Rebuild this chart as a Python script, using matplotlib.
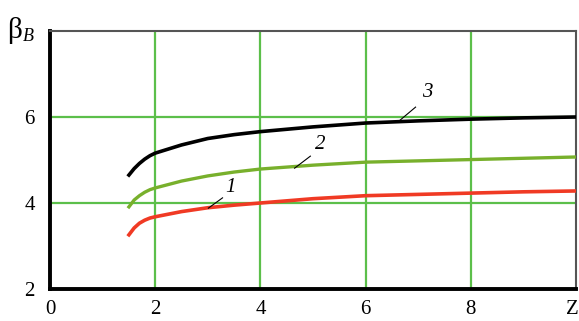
import matplotlib
matplotlib.use("Agg")
import matplotlib.pyplot as plt
from matplotlib.transforms import ScaledTranslation

# Data
z = [1.5, 1.6, 1.7, 1.8, 1.9, 2.0, 2.5, 3.0, 3.5, 4.0, 5.0, 6.0, 7.0, 8.0, 9.0, 10.0]
beta1 = [3.26, 3.42, 3.53, 3.60, 3.65, 3.68, 3.80, 3.89, 3.95, 4.00, 4.10, 4.17, 4.20, 4.23, 4.26, 4.28]
beta2 = [3.91, 4.07, 4.17, 4.25, 4.31, 4.35, 4.51, 4.63, 4.72, 4.79, 4.88, 4.95, 4.98, 5.01, 5.04, 5.07]
beta3 = [4.65, 4.80, 4.92, 5.02, 5.10, 5.16, 5.35, 5.50, 5.59, 5.66, 5.77, 5.86, 5.91, 5.95, 5.98, 6.00]
xticks = [0, 2, 4, 6, 8, 10]
xticklabels = ["0", "2", "4", "6", "8", "Z"]
yticks = [2, 4, 6]
yticklabels = ["2", "4", "6"]

plt.rcParams['font.family'] = ['Liberation Serif', 'DejaVu Serif']

fig = plt.figure(figsize=(5.79, 3.21), dpi=100)
ax = fig.add_axes([0.0864, 0.0997, 0.9084, 0.8037])
ax.set_xlim(0, 10)
ax.set_ylim(2, 8)

grid_c = '#5cbf4a'
for x in [2, 4, 6, 8]:
    ax.axvline(x, color=grid_c, lw=1.6, zorder=1)
for y in [4, 6]:
    ax.axhline(y, color=grid_c, lw=1.6, zorder=1)

ax.plot(z, beta1, color='#f03a24', lw=2.6, zorder=3, solid_joinstyle='round')
ax.plot(z, beta2, color='#78b02c', lw=2.4, zorder=3, solid_joinstyle='round')
ax.plot(z, beta3, color='black', lw=2.6, zorder=3, solid_joinstyle='round')

# leader lines and labels
def lab(xl, yl, x0, y0, x1, y1, t):
    ax.plot([x0, x1], [y0, y1], color='black', lw=0.8, zorder=4)
    ax.text(xl, yl, t, fontsize=15, style='italic', ha='center', va='center')

lab(3.43, 4.37, 3.01, 3.88, 3.28, 4.12, "1")
lab(5.14, 5.35, 4.65, 4.81, 4.95, 5.09, "2")
lab(7.18, 6.56, 6.61, 5.88, 6.95, 6.23, "3")

ax.set_xticks(xticks)
ax.set_xticklabels(xticklabels)
ax.set_yticks(yticks)
ax.set_yticklabels(yticklabels)
ax.tick_params(length=0, labelsize=15, pad=8)
ax.tick_params(axis='y', pad=11)
zl = ax.get_xticklabels()[-1]
zl.set_horizontalalignment('right')
zl.set_transform(zl.get_transform() + ScaledTranslation(3 / 100, 0, fig.dpi_scale_trans))

for s in ['left', 'bottom']:
    ax.spines[s].set_linewidth(2.8)
    ax.spines[s].set_color('black')
for s in ['top', 'right']:
    ax.spines[s].set_linewidth(1.5)
    ax.spines[s].set_color('#555555')

fig.text(0.012, 0.905, "β", fontsize=21, ha='left', va='center')
fig.text(0.040, 0.885, "B", fontsize=13, style='italic', ha='left', va='center')

fig.savefig("out.png", dpi=100)
